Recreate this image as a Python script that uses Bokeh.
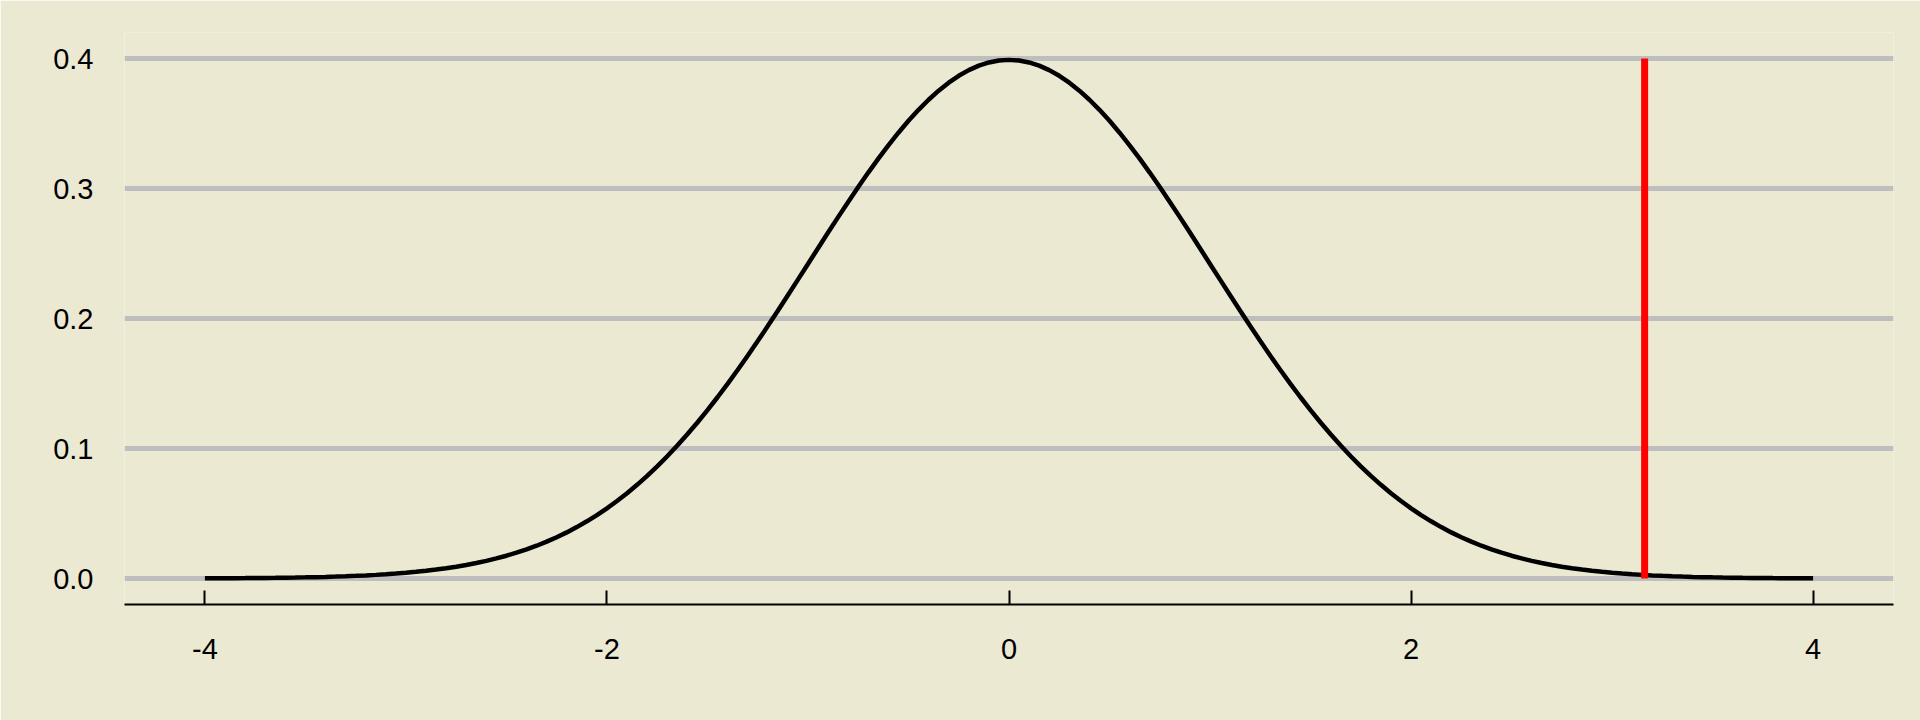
from bokeh.plotting import figure
from bokeh.embed import file_html
from bokeh.resources import INLINE
from bokeh.models import Range1d, FixedTicker

# Density curve (x from -4 to 4)
x_vals = [-4.00, -3.95, -3.90, -3.85, -3.80, -3.75, -3.70, -3.65, -3.60, -3.55,
          -3.50, -3.45, -3.40, -3.35, -3.30, -3.25, -3.20, -3.15, -3.10, -3.05,
          -3.00, -2.95, -2.90, -2.85, -2.80, -2.75, -2.70, -2.65, -2.60, -2.55,
          -2.50, -2.45, -2.40, -2.35, -2.30, -2.25, -2.20, -2.15, -2.10, -2.05,
          -2.00, -1.95, -1.90, -1.85, -1.80, -1.75, -1.70, -1.65, -1.60, -1.55,
          -1.50, -1.45, -1.40, -1.35, -1.30, -1.25, -1.20, -1.15, -1.10, -1.05,
          -1.00, -0.95, -0.90, -0.85, -0.80, -0.75, -0.70, -0.65, -0.60, -0.55,
          -0.50, -0.45, -0.40, -0.35, -0.30, -0.25, -0.20, -0.15, -0.10, -0.05,
          0.00,
          0.05, 0.10, 0.15, 0.20, 0.25, 0.30, 0.35, 0.40, 0.45, 0.50,
          0.55, 0.60, 0.65, 0.70, 0.75, 0.80, 0.85, 0.90, 0.95, 1.00,
          1.05, 1.10, 1.15, 1.20, 1.25, 1.30, 1.35, 1.40, 1.45, 1.50,
          1.55, 1.60, 1.65, 1.70, 1.75, 1.80, 1.85, 1.90, 1.95, 2.00,
          2.05, 2.10, 2.15, 2.20, 2.25, 2.30, 2.35, 2.40, 2.45, 2.50,
          2.55, 2.60, 2.65, 2.70, 2.75, 2.80, 2.85, 2.90, 2.95, 3.00,
          3.05, 3.10, 3.15, 3.20, 3.25, 3.30, 3.35, 3.40, 3.45, 3.50,
          3.55, 3.60, 3.65, 3.70, 3.75, 3.80, 3.85, 3.90, 3.95, 4.00]
density = [0.00013, 0.00016, 0.00020, 0.00024, 0.00029, 0.00035, 0.00042, 0.00051, 0.00061, 0.00073,
           0.00087, 0.00104, 0.00123, 0.00146, 0.00172, 0.00203, 0.00238, 0.00279, 0.00327, 0.00381,
           0.00443, 0.00514, 0.00595, 0.00687, 0.00792, 0.00909, 0.01042, 0.01191, 0.01358, 0.01545,
           0.01753, 0.01984, 0.02239, 0.02522, 0.02833, 0.03174, 0.03547, 0.03955, 0.04398, 0.04879,
           0.05399, 0.05959, 0.06562, 0.07206, 0.07895, 0.08628, 0.09405, 0.10226, 0.11092, 0.12001,
           0.12952, 0.13943, 0.14973, 0.16038, 0.17137, 0.18265, 0.19419, 0.20594, 0.21785, 0.22988,
           0.24197, 0.25406, 0.26609, 0.27798, 0.28969, 0.30114, 0.31225, 0.32297, 0.33322, 0.34294,
           0.35207, 0.36053, 0.36827, 0.37524, 0.38139, 0.38667, 0.39104, 0.39448, 0.39695, 0.39844,
           0.39894,
           0.39844, 0.39695, 0.39448, 0.39104, 0.38667, 0.38139, 0.37524, 0.36827, 0.36053, 0.35207,
           0.34294, 0.33322, 0.32297, 0.31225, 0.30114, 0.28969, 0.27798, 0.26609, 0.25406, 0.24197,
           0.22988, 0.21785, 0.20594, 0.19419, 0.18265, 0.17137, 0.16038, 0.14973, 0.13943, 0.12952,
           0.12001, 0.11092, 0.10226, 0.09405, 0.08628, 0.07895, 0.07206, 0.06562, 0.05959, 0.05399,
           0.04879, 0.04398, 0.03955, 0.03547, 0.03174, 0.02833, 0.02522, 0.02239, 0.01984, 0.01753,
           0.01545, 0.01358, 0.01191, 0.01042, 0.00909, 0.00792, 0.00687, 0.00595, 0.00514, 0.00443,
           0.00381, 0.00327, 0.00279, 0.00238, 0.00203, 0.00172, 0.00146, 0.00123, 0.00104, 0.00087,
           0.00073, 0.00061, 0.00051, 0.00042, 0.00035, 0.00029, 0.00024, 0.00020, 0.00016, 0.00013]

# Vertical marker
marker_x = [3.162, 3.162]
marker_y = [0.0, 0.4]

x_ticks = [-4, -2, 0, 2, 4]
x_tick_labels = {-4: "-4", -2: "-2", 0: "0", 2: "2", 4: "4"}
y_ticks = [0.0, 0.1, 0.2, 0.3, 0.4]
y_tick_labels = {0.0: "0.0", 0.1: "0.1", 0.2: "0.2", 0.3: "0.3", 0.4: "0.4"}

BG = "#ECE9D3"

p = figure(width=1920, height=720, output_backend="svg", toolbar_location=None,
           x_range=Range1d(-4.4, 4.4), y_range=Range1d(-0.02, 0.42),
           min_border_left=124, min_border_right=27, min_border_top=32, min_border_bottom=116)
p.background_fill_color = BG
p.border_fill_color = BG
p.outline_line_color = None

p.xgrid.grid_line_color = None
p.ygrid.grid_line_color = "#BEBEBE"
p.ygrid.grid_line_width = 5
p.ygrid.ticker = FixedTicker(ticks=y_ticks)

# x axis
p.xaxis.ticker = FixedTicker(ticks=x_ticks)
p.xaxis.major_label_overrides = x_tick_labels
p.xaxis.axis_line_color = "black"
p.xaxis.axis_line_width = 2
p.xaxis.major_tick_in = 14
p.xaxis.major_tick_out = 0
p.xaxis.major_tick_line_width = 2
p.xaxis.major_tick_line_color = "black"
p.xaxis.minor_tick_line_color = None
p.xaxis.major_label_standoff = 34
p.xaxis.major_label_text_font = "Liberation Sans"
p.xaxis.major_label_text_font_size = "29px"
p.xaxis.major_label_text_color = "black"

# y axis
p.yaxis.ticker = FixedTicker(ticks=y_ticks)
p.yaxis.major_label_overrides = y_tick_labels
p.yaxis.axis_line_color = None
p.yaxis.major_tick_line_color = None
p.yaxis.minor_tick_line_color = None
p.yaxis.major_tick_in = 0
p.yaxis.major_tick_out = 0
p.yaxis.major_label_standoff = 31
p.yaxis.major_label_text_font = "Liberation Sans"
p.yaxis.major_label_text_font_size = "29px"
p.yaxis.major_label_text_color = "black"

p.line(x_vals, density, line_color="black", line_width=4.5)
p.line(marker_x, marker_y, line_color="#FF0000", line_width=7)

html = file_html(p, INLINE)
html = html.replace("<body>", '<body style="background-color:%s;">' % BG, 1)
open("out.html", "w").write(html)
